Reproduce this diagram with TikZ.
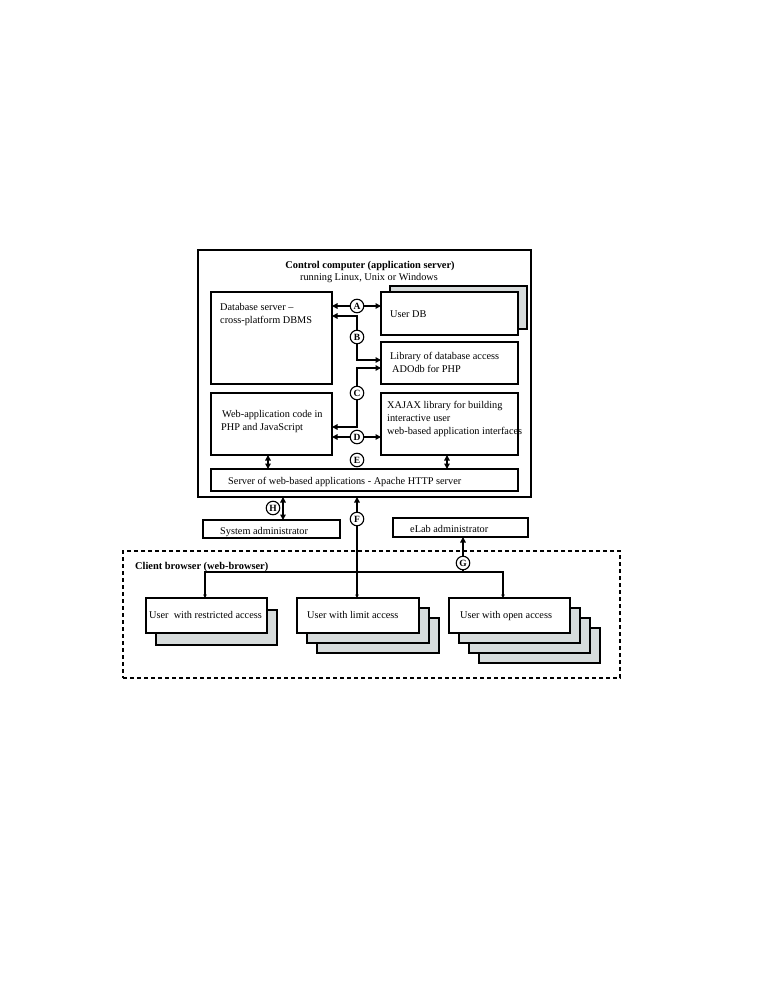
\documentclass[tikz,border=0pt]{standalone}
\usepackage{fontspec}
\setmainfont{Liberation Serif}
\usetikzlibrary{arrows.meta}
\definecolor{shadegray}{RGB}{214,219,219}
\begin{document}
\begin{tikzpicture}[x=1pt,y=-1pt,
  box/.style={draw, line width=1.3pt, fill=white, inner sep=0pt, outer sep=0pt, anchor=north west},
  shbox/.style={box, fill=shadegray},
  txt/.style={anchor=base west, inner sep=0pt, font=\fontsize{10.3}{13}\selectfont},
  btxt/.style={txt, font=\fontsize{10.4}{13}\selectfont\bfseries},
  lbl/.style={circle, draw, line width=1.1pt, fill=white, inner sep=0pt, minimum size=13.5pt, font=\fontsize{9.5}{10}\selectfont\bfseries},
  conn/.style={line width=2pt, arrows={-}, >={Triangle[length=5.5pt,width=5.5pt]}},
  branch/.style={line width=1.6pt, >={Triangle[length=3.5pt,width=3.5pt]}}
]
\useasboundingbox (0,0) rectangle (765,990);

% control computer
\node[box, line width=2pt, minimum width=333pt, minimum height=247pt] (ctrl) at (198,250) {};
\node[btxt, anchor=base] (t1) at (370,268) {Control computer (application server)};
\node[txt, anchor=base] (t2) at (369,280) {running Linux, Unix or Windows};

% inner boxes
\node[box, minimum width=121pt, minimum height=92pt] (db) at (211,292) {};
\node[txt] (dbt1) at (220,310) {Database server –};
\node[txt] (dbt2) at (220,323) {cross-platform DBMS};

\node[shbox, minimum width=137pt, minimum height=43pt] (userdbsh) at (390,286) {};
\node[box, minimum width=137pt, minimum height=43pt] (userdb) at (381,292) {};
\node[txt] (udbt) at (390,317) {User DB};

\node[box, minimum width=137pt, minimum height=42pt] (lib) at (381,342) {};
\node[txt] (libt1) at (390,359) {Library of database access};
\node[txt] (libt2) at (392,372) {ADOdb for PHP};

\node[box, minimum width=121pt, minimum height=62pt] (web) at (211,393) {};
\node[txt] (webt1) at (222,417) {Web-application code in};
\node[txt] (webt2) at (221,430) {PHP and JavaScript};

\node[box, minimum width=137pt, minimum height=62pt] (xajax) at (381,393) {};
\node[txt] (xt1) at (387,408) {XAJAX library for building};
\node[txt] (xt2) at (387,421) {interactive user};
\node[txt] (xt3) at (387,434) {web-based application interfaces};

\node[box, minimum width=307pt, minimum height=22pt] (server) at (211,469) {};
\node[txt] (servt) at (228,484) {Server of web-based applications - Apache HTTP server};

% administrators
\node[box, line width=1.7pt, minimum width=137pt, minimum height=18pt] (sysadm) at (203,520) {};
\node[txt] (sysadmt) at (220,534) {System administrator};
\node[box, line width=1.7pt, minimum width=135pt, minimum height=19pt] (elab) at (393,518) {};
\node[txt] (elabt) at (410,532) {eLab administrator};

% client browser
\node[draw, dashed, dash pattern=on 4pt off 3pt, line width=1.3pt, inner sep=0pt, outer sep=0pt, anchor=north west, minimum width=497pt, minimum height=127pt] (client) at (123,551) {};
\node[btxt] (clientt) at (135,569) {Client browser (web-browser)};

\node[shbox, minimum width=121pt, minimum height=35pt] (rsh1) at (156,610) {};
\node[box, minimum width=121pt, minimum height=35pt] (restricted) at (146,598) {};
\node[txt] (rt) at (149,618) {User\ \ with restricted access};

\node[shbox, minimum width=122pt, minimum height=35pt] (lsh2) at (317,618) {};
\node[shbox, minimum width=122pt, minimum height=35pt] (lsh1) at (307,608) {};
\node[box, minimum width=122pt, minimum height=35pt] (limit) at (297,598) {};
\node[txt] (lt) at (307,618) {User with limit access};

\node[shbox, minimum width=121pt, minimum height=35pt] (osh3) at (479,628) {};
\node[shbox, minimum width=121pt, minimum height=35pt] (osh2) at (469,618) {};
\node[shbox, minimum width=121pt, minimum height=35pt] (osh1) at (459,608) {};
\node[box, minimum width=121pt, minimum height=35pt] (open) at (449,598) {};
\node[txt] (ot) at (460,618) {User with open access};

% coordinates for connectors
\coordinate (b1) at (357,316);
\coordinate (b2) at (357,360);
\coordinate (c1) at (357,368);
\coordinate (c2) at (357,427);
\coordinate (ex1) at (268,0);
\coordinate (ex2) at (447,0);
\coordinate (hx) at (283,0);
\coordinate (fb) at (357,572);
\coordinate (gb) at (463,572);
\coordinate (rl) at (205,572);
\coordinate (rr) at (503,572);
\coordinate (ay) at (0,306);
\coordinate (dy) at (0,437);

% connectors
\draw[conn,<->] (db.east|-ay) -- (userdb.west|-ay);
\draw[conn,<->] (db.east|-b1) -- (b1) -- (b2) -- (lib.west|-b2);
\draw[conn,<->] (lib.west|-c1) -- (c1) -- (c2) -- (web.east|-c2);
\draw[conn,<->] (web.east|-dy) -- (xajax.west|-dy);
\draw[conn,<->] (web.south-|ex1) -- (server.north-|ex1);
\draw[conn,<->] (xajax.south-|ex2) -- (server.north-|ex2);
\draw[conn,<->] (ctrl.south-|hx) -- (sysadm.north-|hx);
\draw[conn,->] (fb) -- (fb|-ctrl.south);
\draw[conn,->] (gb) -- (gb|-elab.south);
\draw[branch,->] (fb) -- (limit.north-|fb);
\draw[branch,<->] (restricted.north-|rl) -- (rl) -- (rr) -- (open.north-|rr);

% labels
\node[lbl] (a) at (357,306) {A};
\node[lbl] (b) at (357,337) {B};
\node[lbl] (c) at (357,393) {C};
\node[lbl] (d) at (357,437) {D};
\node[lbl] (e) at (357,460) {E};
\node[lbl] (h) at (273,508) {H};
\node[lbl] (f) at (357,519) {F};
\node[lbl] (g) at (463,563) {G};
\end{tikzpicture}
\end{document}
